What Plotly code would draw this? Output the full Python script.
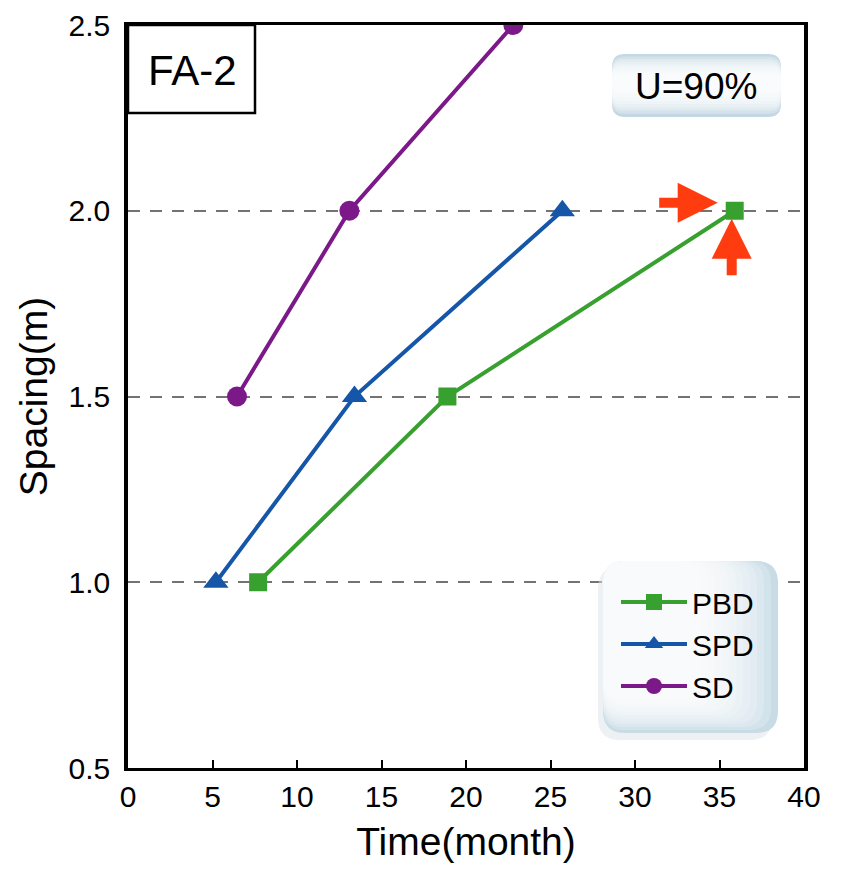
import plotly.graph_objects as go

# ---- data: spacing (m) vs time (month) to reach U = 90 %
pbd_time = [7.7, 18.9, 35.9]
pbd_spacing = [1.0, 1.5, 2.0]
spd_time = [5.2, 13.4, 25.7]
spd_spacing = [1.0, 1.5, 2.0]
sd_time = [6.45, 13.1, 22.8]
sd_spacing = [1.5, 2.0, 2.5]

x_ticks = [0, 5, 10, 15, 20, 25, 30, 35, 40]
y_ticks = [0.5, 1.0, 1.5, 2.0, 2.5]

# ---- page geometry
W, H = 843, 879
ML, MR, MT, MB = 128, 39, 25, 111
PW, PH = W - ML - MR, H - MT - MB


def px(x):
    return (x - ML) / PW


def py(y):
    return (H - MB - y) / PH


def rounded(x0, y0, x1, y1, r):
    """Rounded rectangle path in paper units from pixel corners."""
    r = min(r, (x1 - x0) / 2, (y1 - y0) / 2)
    rx, ry = r / PW, r / PH
    X0, X1 = px(x0), px(x1)
    Y0, Y1 = py(y1), py(y0)  # Y0 bottom, Y1 top
    return (f"M{X0 + rx},{Y1} L{X1 - rx},{Y1} Q{X1},{Y1} {X1},{Y1 - ry} "
            f"L{X1},{Y0 + ry} Q{X1},{Y0} {X1 - rx},{Y0} L{X0 + rx},{Y0} "
            f"Q{X0},{Y0} {X0},{Y0 + ry} L{X0},{Y1 - ry} Q{X0},{Y1} {X0 + rx},{Y1} Z")


def panel(x0, y0, x1, y1, r, color, opacity=1.0):
    return dict(type="path", xref="paper", yref="paper", path=rounded(x0, y0, x1, y1, r),
                fillcolor=color, opacity=opacity, line=dict(width=0), layer="above")


FONT = "Liberation Sans, Arial, Helvetica, sans-serif"
GREEN, BLUE, PURPLE = "#37a02e", "#1656a9", "#7c1989"
RED = "#ff3c10"

fig = go.Figure()
fig.add_trace(go.Scatter(x=pbd_time, y=pbd_spacing, name="PBD", mode="lines+markers",
                         line=dict(color=GREEN, width=4),
                         marker=dict(symbol="square", size=18, color=GREEN)))
fig.add_trace(go.Scatter(x=spd_time, y=spd_spacing, name="SPD", mode="lines+markers",
                         line=dict(color=BLUE, width=4),
                         marker=dict(symbol="triangle-up", size=22, color=BLUE)))
fig.add_trace(go.Scatter(x=sd_time, y=sd_spacing, name="SD", mode="lines+markers",
                         line=dict(color=PURPLE, width=4),
                         marker=dict(symbol="circle", size=20, color=PURPLE)))

shapes = []
# label box in the top-left corner
shapes.append(dict(type="rect", xref="paper", yref="paper", x0=0, x1=px(255),
                   y0=py(113), y1=1, fillcolor="white",
                   line=dict(color="black", width=2.5), layer="above"))

# "U=90%" badge: blue-grey edges fading to white in the middle
shapes.append(panel(612, 54, 781, 117, 13, "#c4d8e3"))
for k in range(1, 9):
    shapes.append(panel(612, 54 + 2.6 * k, 781, 117 - 3.2 * k, 13 - k, "white", 0.28))

# legend panel: soft shadow, then white-to-blue shading toward the right/bottom
shapes.append(panel(598, 567, 772, 740, 22, "#dde4e8", 0.5))
shapes.append(panel(603, 561, 778, 733, 22, "#c9dce6"))
for k in range(1, 12):
    shapes.append(panel(603, 561, 778 - 7 * k, 733 - 3 * k, 22, "white", 0.2))

annotations = [
    dict(xref="paper", yref="paper", x=px(192), y=py(70), text="FA-2", showarrow=False,
         xanchor="center", yanchor="middle",
         font=dict(family=FONT, size=42, color="black")),
    dict(xref="paper", yref="paper", x=px(696), y=py(86), text="U=90%", showarrow=False,
         xanchor="center", yanchor="middle",
         font=dict(family=FONT, size=37, color="black")),
    # arrows highlighting the final PBD point
    dict(x=pbd_time[-1], y=pbd_spacing[-1], xref="x", yref="y", text="", showarrow=True,
         ax=-60, ay=0, xshift=-17, yshift=8, arrowhead=2, arrowsize=0.8, arrowwidth=10,
         arrowcolor=RED, standoff=0),
    dict(x=pbd_time[-1], y=pbd_spacing[-1], xref="x", yref="y", text="", showarrow=True,
         ax=0, ay=58, xshift=-3, yshift=-8, arrowhead=2, arrowsize=0.8, arrowwidth=10,
         arrowcolor=RED, standoff=0),
]

fig.update_layout(
    width=W, height=H,
    margin=dict(l=ML, r=MR, t=MT, b=MB, autoexpand=False),
    paper_bgcolor="white", plot_bgcolor="white",
    font=dict(family=FONT, color="black"),
    showlegend=True,
    legend=dict(x=px(616), y=py(576), xanchor="left", yanchor="top",
                bgcolor="rgba(0,0,0,0)", borderwidth=0,
                font=dict(family=FONT, size=30, color="black"),
                itemwidth=66, tracegroupgap=0),
    shapes=shapes,
    annotations=annotations,
)

fig.update_xaxes(
    range=[0, 40], tickvals=x_ticks, ticktext=[str(v) for v in x_ticks],
    showgrid=False, zeroline=False, automargin=False,
    showline=True, linecolor="black", linewidth=3, mirror=True,
    ticks="inside", ticklen=8, tickwidth=1.5, tickcolor="black",
    tickfont=dict(family=FONT, size=30, color="black"),
    title=dict(text="Time(month)", font=dict(family=FONT, size=39, color="black"), standoff=16),
)
fig.update_yaxes(
    range=[0.5, 2.5], tickvals=y_ticks, ticktext=[f"{v:.1f}" for v in y_ticks],
    showgrid=True, gridcolor="#737373", gridwidth=2, griddash="12px,10px",
    zeroline=False, automargin=False,
    showline=True, linecolor="black", linewidth=3.5, mirror=True,
    ticks="", ticklabelstandoff=8,
    tickfont=dict(family=FONT, size=30, color="black"),
    title=dict(text="Spacing(m)", font=dict(family=FONT, size=39, color="black"), standoff=10),
)

fig.write_html("out.html")
